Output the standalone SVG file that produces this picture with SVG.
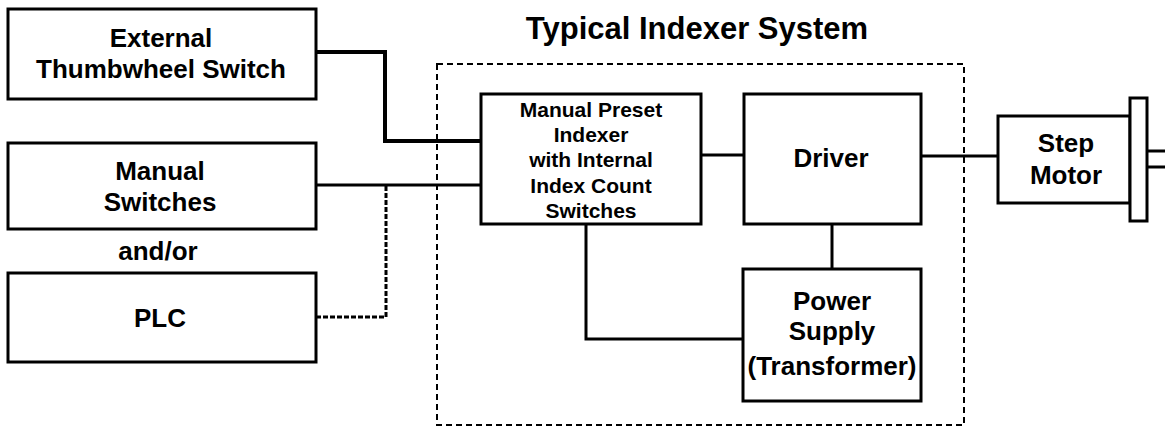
<svg xmlns="http://www.w3.org/2000/svg" width="1165" height="429" viewBox="0 0 1165 429">
<style>
.box{fill:#fff;stroke:#000;stroke-width:3}
.t{font-family:"Liberation Sans",Arial,sans-serif;font-weight:bold;fill:#000;text-anchor:middle}
.f26{font-size:26px}
.f21{font-size:21px}
.w{fill:none;stroke:#000;stroke-width:3}
.dot{fill:none;stroke:#000;stroke-width:3;stroke-dasharray:5,2}
.dash{fill:none;stroke:#000;stroke-width:2;stroke-dasharray:6,4}
</style>
<rect width="1165" height="429" fill="#fff"/>
<g id="system">
<rect class="dash" x="437" y="64" width="527" height="361"/>
<text class="t" x="697" y="39" font-size="31">Typical Indexer System</text>
</g>
<g id="connectors">
<polyline class="w" points="316,52 385,52 385,141 481,141" style="stroke-width:4"/>
<line class="w" x1="316" y1="185" x2="481" y2="185"/>
<polyline class="dot" points="316,317 386,317 386,186"/>
<line class="w" x1="701" y1="155" x2="744" y2="155"/>
<line class="w" x1="832" y1="224" x2="832" y2="269"/>
<polyline class="w" points="586,224 586,339 743,339"/>
<line class="w" x1="921" y1="156" x2="998" y2="156"/>
<line class="w" x1="1147" y1="151" x2="1165" y2="151"/>
<line class="w" x1="1147" y1="167" x2="1165" y2="167"/>
</g>
<g id="thumbwheel">
<rect class="box" x="8" y="9" width="308" height="90"/>
<text class="t f26" x="161" y="47">External</text>
<text class="t f26" x="161" y="78">Thumbwheel Switch</text>
</g>
<g id="manual">
<rect class="box" x="8" y="143" width="308" height="86"/>
<text class="t f26" x="160" y="180">Manual</text>
<text class="t f26" x="160" y="211">Switches</text>
</g>
<g id="andor">
<text class="t f26" x="158" y="260">and/or</text>
</g>
<g id="plc">
<rect class="box" x="8" y="273" width="308" height="89"/>
<text class="t f26" x="160" y="327">PLC</text>
</g>
<g id="indexer">
<rect class="box" x="481" y="94" width="220" height="130"/>
<text class="t f21" x="591" y="117">Manual Preset</text>
<text class="t f21" x="591" y="142">Indexer</text>
<text class="t f21" x="591" y="167">with Internal</text>
<text class="t f21" x="591" y="193">Index Count</text>
<text class="t f21" x="591" y="218">Switches</text>
</g>
<g id="driver">
<rect class="box" x="744" y="94" width="177" height="130"/>
<text class="t f26" x="831" y="167">Driver</text>
</g>
<g id="power">
<rect class="box" x="743" y="269" width="178" height="132"/>
<text class="t f26" x="832" y="310">Power</text>
<text class="t f26" x="832" y="340">Supply</text>
<text class="t f26" x="832" y="375">(Transformer)</text>
</g>
<g id="motor">
<rect class="box" x="998" y="116" width="132" height="87"/>
<rect class="box" x="1130" y="98" width="17" height="123"/>
<text class="t f26" x="1066" y="152">Step</text>
<text class="t f26" x="1066" y="184">Motor</text>
</g>
</svg>
